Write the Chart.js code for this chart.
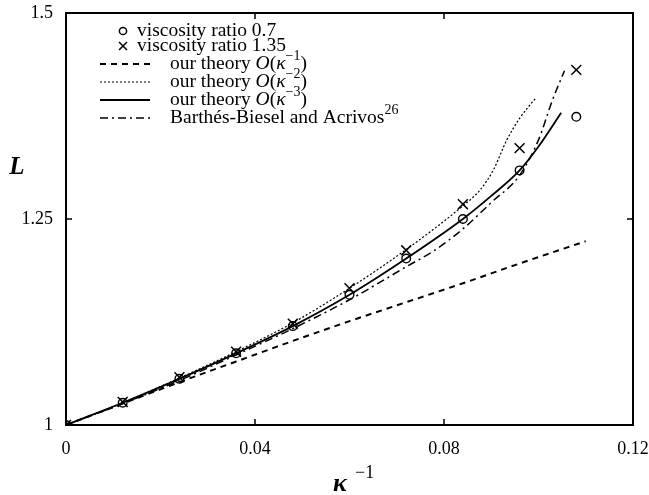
<!DOCTYPE html>
<html>
<head>
<meta charset="utf-8">
<script src="https://cdn.jsdelivr.net/npm/chart.js@4.4.1/dist/chart.umd.min.js"></script>
<style>
  body { margin: 0; background: #fff; }
  #chart { display: block; }
</style>
</head>
<body>
<canvas id="chart" width="649" height="495"></canvas>
<script>
// measured points (kappa^-1 vs L)
const markerK = [0, 0.012, 0.024, 0.036, 0.048, 0.06, 0.072, 0.084, 0.096, 0.108]
const ratio07 = [1, 1.027, 1.056, 1.087, 1.120, 1.158, 1.202, 1.250, 1.309, 1.374]
const ratio135 = [1, 1.028, 1.058, 1.089, 1.123, 1.166, 1.212, 1.268, 1.336, 1.431]

// theory curves
const theory1K = [0, 0.012, 0.024, 0.036, 0.048, 0.06, 0.072, 0.084, 0.096, 0.11]
const theory1L = [1, 1.026, 1.052, 1.077, 1.102, 1.126, 1.149, 1.172, 1.196, 1.223]
const theory2K = [0, 0.012, 0.024, 0.036, 0.048, 0.06, 0.072, 0.084, 0.0876, 0.0904, 0.0933, 0.0961, 0.0993]
const theory2L = [1, 1.027, 1.057, 1.089, 1.124, 1.166, 1.213, 1.266, 1.285, 1.309, 1.346, 1.373, 1.396]
const theory3K = [0, 0.012, 0.024, 0.036, 0.048, 0.06, 0.072, 0.084, 0.09, 0.096, 0.1, 0.1048]
const theory3L = [1, 1.027, 1.056, 1.087, 1.120, 1.158, 1.202, 1.250, 1.278, 1.309, 1.338, 1.379]
const bbK = [0, 0.012, 0.024, 0.036, 0.048, 0.06, 0.072, 0.078, 0.084, 0.09, 0.096, 0.1, 0.103, 0.1055]
const bbL = [1, 1.026, 1.054, 1.085, 1.117, 1.152, 1.192, 1.212, 1.238, 1.27, 1.303, 1.346, 1.395, 1.43]

const xTicks = [0, 0.04, 0.08, 0.12]
const yTicks = [1, 1.25, 1.5]
const xTickLabels = ['0', '0.04', '0.08', '0.12']
const yTickLabels = ['1', '1.25', '1.5']

// *..* = italic, ^{..} = superscript
const legendLabels = [
  'viscosity ratio 0.7',
  'viscosity ratio 1.35',
  'our theory *O*(*κ*^{−1})',
  'our theory *O*(*κ*^{−2})',
  'our theory *O*(*κ*^{−3})',
  'Barthés-Biesel and Acrivos^{26}'
]
const yTitle = 'L'
const xTitle = 'κ'
const xTitleSup = '−1'

const pts = (xs, ys) => xs.map((x, i) => ({ x: x, y: ys[i] }))
const serif = '"Liberation Serif", "DejaVu Serif", serif'

const datasets = [
  { label: legendLabels[0], data: pts(markerK, ratio07), showLine: false, pointStyle: 'circle',
    pointRadius: 4.3, pointBorderWidth: 1.4, pointBackgroundColor: 'rgba(0,0,0,0)', pointBorderColor: '#000' },
  { label: legendLabels[1], data: pts(markerK, ratio135), showLine: false, pointStyle: 'crossRot',
    pointRadius: 7, pointBorderWidth: 1.5, pointBorderColor: '#000' },
  { label: legendLabels[2], data: pts(theory1K, theory1L), borderColor: '#000', borderWidth: 2,
    borderDash: [6, 5], pointRadius: 0, cubicInterpolationMode: 'monotone' },
  { label: legendLabels[3], data: pts(theory2K, theory2L), borderColor: '#000', borderWidth: 1.2,
    borderDash: [2, 2], pointRadius: 0, cubicInterpolationMode: 'monotone' },
  { label: legendLabels[4], data: pts(theory3K, theory3L), borderColor: '#000', borderWidth: 1.8,
    pointRadius: 0, cubicInterpolationMode: 'monotone' },
  { label: legendLabels[5], data: pts(bbK, bbL), borderColor: '#000', borderWidth: 1.5,
    borderDash: [8, 4, 2, 4], pointRadius: 0, cubicInterpolationMode: 'monotone' }
]

function drawRich(ctx, text, x, y, size) {
  const parts = text.split(/(\*[^*]+\*|\^\{[^}]*\})/).filter(p => p !== '')
  ctx.textBaseline = 'middle'
  ctx.textAlign = 'left'
  for (const p of parts) {
    let t = p, font = size + 'px ' + serif, dy = 0
    if (p.startsWith('*')) { t = p.slice(1, -1); font = 'italic ' + size + 'px ' + serif }
    else if (p.startsWith('^{')) { t = p.slice(2, -1); font = Math.round(size * 0.7) + 'px ' + serif; dy = -size * 0.38 }
    ctx.font = font
    ctx.fillText(t, x, y + dy)
    x += ctx.measureText(t).width
  }
}

const framePlugin = {
  id: 'frame',
  afterDraw(chart) {
    const ctx = chart.ctx
    const a = chart.chartArea
    const xs = chart.scales.x, ys = chart.scales.y
    ctx.save()
    ctx.strokeStyle = '#000'
    ctx.lineWidth = 2
    ctx.strokeRect(a.left, a.top, a.right - a.left, a.bottom - a.top)
    // inward ticks on all four sides
    ctx.lineWidth = 1.5
    ctx.beginPath()
    for (const v of xTicks) {
      const px = xs.getPixelForValue(v)
      ctx.moveTo(px, a.bottom); ctx.lineTo(px, a.bottom - 6)
      ctx.moveTo(px, a.top); ctx.lineTo(px, a.top + 6)
    }
    for (const v of yTicks) {
      const py = ys.getPixelForValue(v)
      ctx.moveTo(a.left, py); ctx.lineTo(a.left + 6, py)
      ctx.moveTo(a.right, py); ctx.lineTo(a.right - 6, py)
    }
    ctx.stroke()

    // axis titles
    ctx.fillStyle = '#000'
    ctx.textBaseline = 'middle'
    ctx.textAlign = 'center'
    ctx.font = 'italic bold 25px ' + serif
    ctx.fillText(yTitle, 17, 168)
    ctx.font = 'italic bold 26px ' + serif
    ctx.textAlign = 'left'
    ctx.fillText(xTitle, 333, 484)
    ctx.font = '18px ' + serif
    ctx.fillText(xTitleSup, 355, 473)

    // legend
    const rows = [31, 46, 64, 82, 100, 118]
    chart.data.datasets.forEach((ds, i) => {
      const y = rows[i]
      ctx.strokeStyle = '#000'
      if (ds.showLine === false) {
        ctx.lineWidth = 1.5
        ctx.setLineDash([])
        ctx.beginPath()
        if (ds.pointStyle === 'circle') {
          ctx.arc(123, y, 3.6, 0, Math.PI * 2)
        } else {
          ctx.moveTo(119, y - 4); ctx.lineTo(127, y + 4)
          ctx.moveTo(119, y + 4); ctx.lineTo(127, y - 4)
        }
        ctx.stroke()
        drawRich(ctx, ds.label, 137, y, 19.5)
      } else {
        ctx.lineWidth = ds.borderWidth
        ctx.setLineDash(ds.borderDash || [])
        ctx.beginPath()
        ctx.moveTo(100, y); ctx.lineTo(150, y)
        ctx.stroke()
        ctx.setLineDash([])
        drawRich(ctx, ds.label, 170, y, 19.5)
      }
    })
    ctx.restore()
  }
}

new Chart(document.getElementById('chart'), {
  type: 'line',
  data: { datasets: datasets },
  options: {
    responsive: false,
    animation: false,
    devicePixelRatio: 1,
    layout: { padding: { top: 13, right: 16, left: 0, bottom: 0 } },
    plugins: { legend: { display: false }, tooltip: { enabled: false } },
    scales: {
      x: {
        type: 'linear', min: 0, max: 0.12,
        afterBuildTicks: s => { s.ticks = xTicks.map(v => ({ value: v })) },
        afterFit: s => { s.height = 70; s.paddingLeft = 0; s.paddingRight = 0 },
        ticks: { callback: (v, i) => xTickLabels[i], color: '#000', padding: 13, maxRotation: 0,
          font: { family: serif, size: 18 } },
        grid: { display: false, drawTicks: false },
        border: { display: false }
      },
      y: {
        type: 'linear', min: 1, max: 1.5,
        afterBuildTicks: s => { s.ticks = yTicks.map(v => ({ value: v })) },
        afterFit: s => { s.width = 66; s.paddingTop = 0; s.paddingBottom = 0 },
        ticks: { callback: (v, i) => yTickLabels[i], color: '#000', padding: 13,
          font: { family: serif, size: 18 } },
        grid: { display: false, drawTicks: false },
        border: { display: false }
      }
    }
  },
  plugins: [framePlugin]
})
</script>
</body>
</html>
